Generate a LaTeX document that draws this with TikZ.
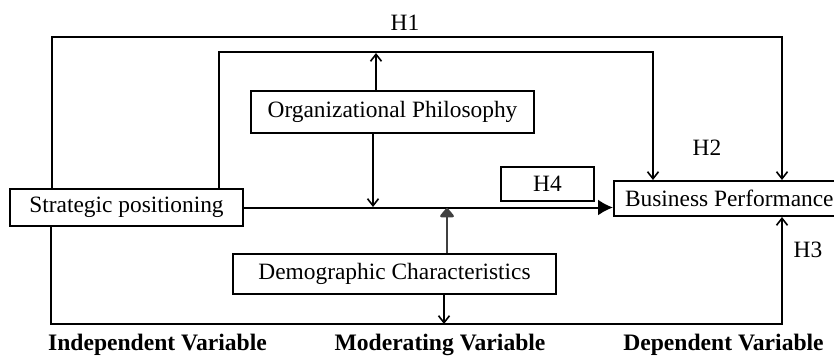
\documentclass[tikz,border=0pt]{standalone}
\usepackage{fontspec}
\setmainfont{Liberation Serif}
\usetikzlibrary{arrows.meta}
\begin{document}
\begin{tikzpicture}[x=0.5pt,y=-0.5pt,
  every node/.style={font=\fontsize{11.7}{14}\selectfont},
  box/.style={draw,line width=1pt,inner sep=0pt,fill=white},
  ln/.style={line width=1pt},
  arr/.style={ln,-{Straight Barb[length=3.5pt,width=5.5pt,line width=0.8pt]}},
  bigarr/.style={ln,-{Latex[length=7.5pt,width=8pt]}},
  bluntarr/.style={line width=1.3pt,black!75,-{Triangle[length=5pt,width=8pt,round]}},
  lbl/.style={font=\fontsize{11.8}{14}\selectfont\bfseries}]
\useasboundingbox (0,0) rectangle (834,358);
\fill[white] (0,0) rectangle (834,358);
% boxes
\node[box,minimum width=116.5pt,minimum height=18.5pt] (SP) at (126.5,207.5) {Strategic positioning};
\node[box,minimum width=141.5pt,minimum height=21pt] (OP) at (392.5,112) {Organizational Philosophy};
\node[box,minimum width=161.5pt,minimum height=20pt] (DC) at (394.5,274) {Demographic Characteristics};
\node[box,minimum width=46.5pt,minimum height=17pt] (H4) at (547.5,184) {H4};
\node[box,anchor=west,inner xsep=5.5pt,minimum height=17.5pt] (BP) at (613,198.5) {Business Performance};
% helper coordinates
\coordinate (a1) at (52,37);
\coordinate (a2) at (782,37);
\coordinate (b1) at (219,52);
\coordinate (b2) at (653,52);
\coordinate (c1) at (51,324);
\coordinate (c2) at (782,324);
\coordinate (opu) at (376,53);
\coordinate (opd) at (373,207);
\coordinate (dcu) at (447,208);
\coordinate (dcd) at (444,324);
% connectors
\draw[arr] (SP.north -| a1) -- (a1) -- (a2) -- (BP.north -| a2);
\draw[arr] (SP.north -| b1) -- (b1) -- (b2) -- (BP.north -| b2);
\draw[arr] (OP.north -| opu) -- (opu);
\draw[arr] (OP.south -| opd) -- (opd);
\draw[bigarr] (SP.east) -- (SP.east -| BP.west);
\draw[bluntarr] (DC.north -| dcu) -- (dcu);
\draw[arr] (DC.south -| dcd) -- (dcd);
\draw[arr] (SP.south -| c1) -- (c1) -- (c2) -- (BP.south -| c2);
% labels
\node (H1) at (405,23) {H1};
\node (H2) at (707,148) {H2};
\node (H3) at (808,250) {H3};
\node[lbl] (L1) at (157.5,345) {Independent Variable};
\node[lbl] (L2) at (440,345) {Moderating Variable};
\node[lbl] (L3) at (723.5,345) {Dependent Variable};
\end{tikzpicture}
\end{document}
